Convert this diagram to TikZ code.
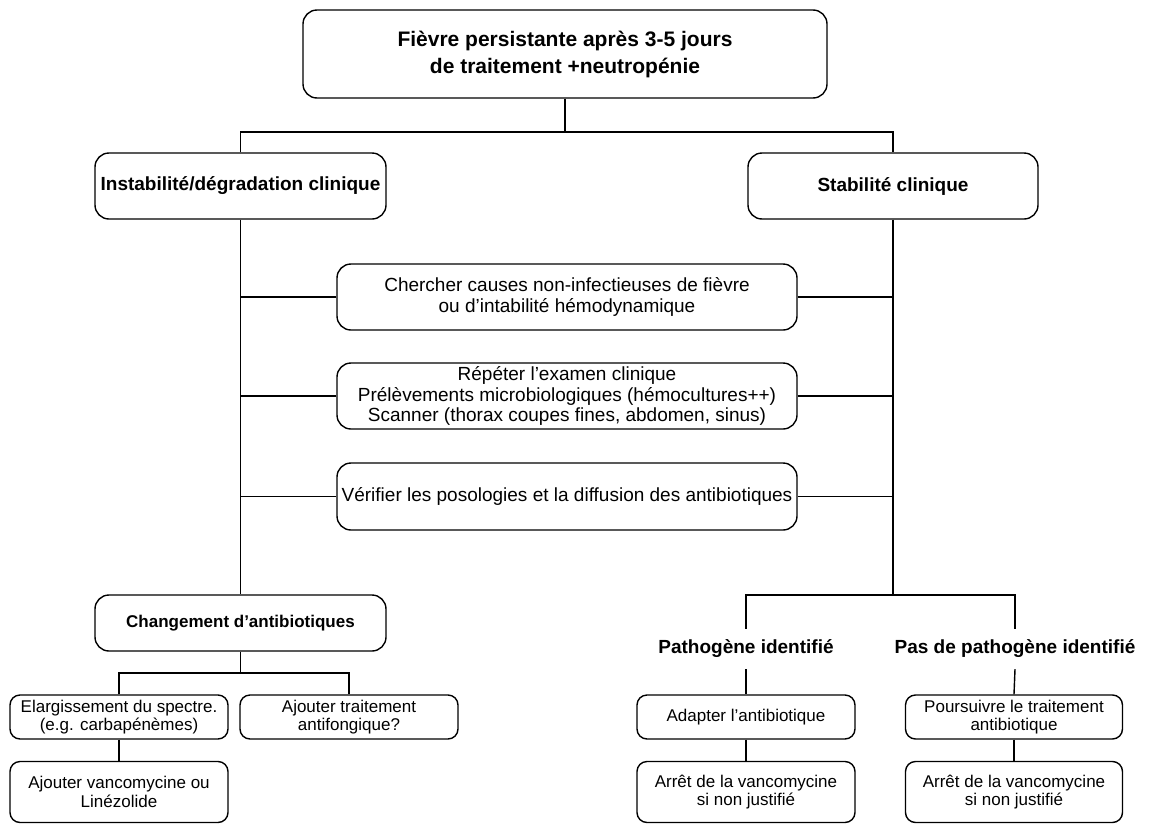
\documentclass[tikz,border=0pt]{standalone}
\usepackage{fontspec}
\setmainfont{Liberation Sans}
\newcommand{\ftitle}{\fontsize{21}{27}\selectfont\bfseries}
\newcommand{\fbigb}{\fontsize{19}{21}\selectfont\bfseries}
\newcommand{\fmid}{\fontsize{19}{20.5}\selectfont}
\newcommand{\fsmallb}{\fontsize{17}{19}\selectfont\bfseries}
\newcommand{\fsmall}{\fontsize{17}{18.5}\selectfont}
\begin{document}
\begin{tikzpicture}[x=1pt,y=-1pt,
  box/.style={draw, line width=1.4pt, rounded corners=14pt, align=center, inner sep=0pt},
  sbox/.style={draw, line width=1.4pt, rounded corners=10pt, align=center, inner sep=0pt},
  lbl/.style={align=center, inner sep=0pt, minimum height=40pt},
  conn/.style={line width=1.4pt}]
\useasboundingbox (0,0) rectangle (1149,825);

\node[box, minimum width=524pt, minimum height=88pt, font=\ftitle] (top) at (565,54)
  {Fièvre persistante après 3-5 jours\\de traitement +neutropénie};
\node[box, minimum width=291pt, minimum height=66pt, font=\fbigb] (instab) at (240.5,186)
  {Instabilité/dégradation clinique};
\node[box, minimum width=290pt, minimum height=66pt, font=\fbigb] (stab) at (893,186)
  {Stabilité clinique};

\node[box, minimum width=460pt, minimum height=66pt, font=\fmid] (m1) at (567,297)
  {Chercher causes non-infectieuses de fièvre\\ou d’intabilité hémodynamique};
\node[box, minimum width=460pt, minimum height=66pt, font=\fmid] (m2) at (567,396)
  {Répéter l’examen clinique\\Prélèvements microbiologiques (hémocultures++)\\Scanner (thorax coupes fines, abdomen, sinus)};
\node[box, minimum width=460pt, minimum height=67pt, font=\fmid] (m3) at (567,496.5)
  {Vérifier les posologies et la diffusion des antibiotiques};

\node[box, minimum width=291pt, minimum height=56pt, font=\fsmallb] (chg) at (240.5,623)
  {Changement d’antibiotiques};
\node[sbox, minimum width=218pt, minimum height=44pt, font=\fsmall] (elarg) at (119,717)
  {Elargissement du spectre.\\(e.g. carbapénèmes)};
\node[sbox, minimum width=218pt, minimum height=44pt, font=\fsmall] (antif) at (349,717)
  {Ajouter traitement\\antifongique?};
\node[sbox, minimum width=218pt, minimum height=61pt, font=\fsmall] (vanco) at (119,792)
  {Ajouter vancomycine ou\\Linézolide};

\node[lbl, font=\fbigb] (patho) at (746,649) {Pathogène identifié};
\node[lbl, font=\fbigb] (pasp) at (1015,649) {Pas de pathogène identifié};
\node[sbox, minimum width=218pt, minimum height=44pt, font=\fsmall] (adapt) at (746,717)
  {Adapter l’antibiotique};
\node[sbox, minimum width=217pt, minimum height=44pt, font=\fsmall] (pours) at (1014,717)
  {Poursuivre le traitement\\antibiotique};
\node[sbox, minimum width=218pt, minimum height=61pt, font=\fsmall] (arr1) at (746,792)
  {Arrêt de la vancomycine\\si non justifié};
\node[sbox, minimum width=217pt, minimum height=61pt, font=\fsmall] (arr2) at (1014,792)
  {Arrêt de la vancomycine\\si non justifié};

\coordinate (j0) at (565,132);
\coordinate (jL) at (240.5,673);
\coordinate (jR) at (893,595);

\draw[conn] (top.south) -- (j0);
\draw[conn] (instab.north) |- (j0) -| (stab.north);
\draw[conn] (instab.south) -- (chg.north);
\draw[conn] (stab.south) -- (jR);
\draw[conn] (m1.west) -- (m1.west -| instab.south);
\draw[conn] (m1.east) -- (m1.east -| stab.south);
\draw[conn] (m2.west) -- (m2.west -| instab.south);
\draw[conn] (m2.east) -- (m2.east -| stab.south);
\draw[conn] (m3.west) -- (m3.west -| instab.south);
\draw[conn] (m3.east) -- (m3.east -| stab.south);
\draw[conn] (chg.south) -- (jL);
\draw[conn] (elarg.north) |- (jL) -| (antif.north);
\draw[conn] (elarg.south) -- (vanco.north);
\draw[conn] (patho.north) |- (jR) -| (pasp.north);
\draw[conn] (patho.south) -- (adapt.north);
\draw[conn] (pasp.south) -- (pours.north);
\draw[conn] (adapt.south) -- (arr1.north);
\draw[conn] (pours.south) -- (arr2.north);
\end{tikzpicture}
\end{document}
